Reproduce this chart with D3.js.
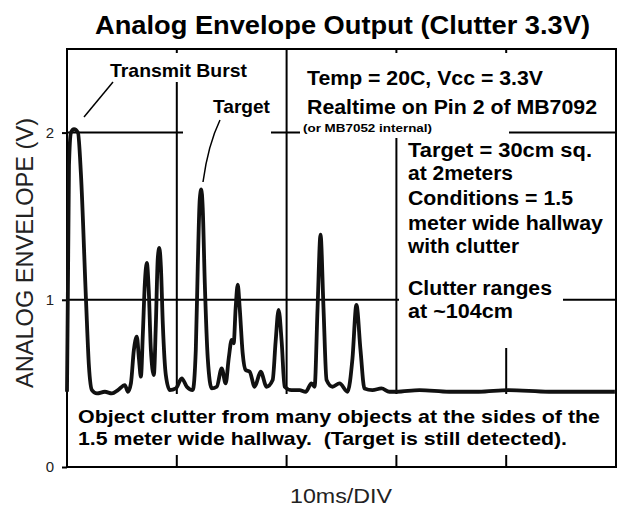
<!DOCTYPE html>
<html>
<head>
<meta charset="utf-8">
<script src="https://cdnjs.cloudflare.com/ajax/libs/d3/7.8.5/d3.min.js"></script>
<style>
  body { margin: 0; background: #fff; }
  svg { display: block; font-family: Arial, "Liberation Sans", sans-serif; }
  text { white-space: pre; }
</style>
</head>
<body>
<div id="chart"></div>
<script>
// scope trace (time in ms, envelope in volts)
var timeMs = [0, 0.18, 0.36, 0.64, 1.0, 1.27, 1.73, 2.0, 2.27, 2.73, 3.45, 4.09, 4.64, 5.27, 5.55,
  5.82, 6.09, 6.36, 6.55, 6.73, 6.91, 7.09, 7.27, 7.45, 7.64, 7.91, 8.09, 8.27, 8.41, 8.55, 8.73,
  9.0, 9.36, 9.91, 10.45, 10.91, 11.45, 11.73, 11.91, 12.09, 12.23, 12.36, 12.55, 12.82, 13.18,
  13.64, 14.09, 14.45, 14.73, 15.0, 15.18, 15.36, 15.55, 15.73, 16.0, 16.27, 16.64, 17.09, 17.64,
  18.18, 18.73, 19.0, 19.27, 19.55, 19.82, 20.45, 21.18, 21.73, 22.27, 22.55, 22.82, 23.09, 23.36,
  23.64, 24.18, 24.82, 25.55, 26.0, 26.36, 26.73, 27.09, 27.82, 28.64, 29.36, 30.0, 32.1, 34.8,
  37.5, 40.2, 43.9, 47.0, 49.9];
var envelopeV = [0.45, 1.8, 2.0, 2.02, 2.0, 1.75, 1.0, 0.6, 0.46, 0.44, 0.45, 0.44, 0.46, 0.49, 0.45,
  0.5, 0.7, 0.78, 0.65, 0.54, 0.8, 1.1, 1.22, 1.05, 0.7, 0.55, 0.85, 1.25, 1.31, 1.2, 0.85,
  0.55, 0.46, 0.47, 0.53, 0.48, 0.46, 0.7, 1.2, 1.6, 1.66, 1.55, 1.1, 0.65, 0.47,
  0.48, 0.59, 0.5, 0.65, 0.76, 0.74, 0.95, 1.09, 0.95, 0.68, 0.58, 0.57, 0.48, 0.57,
  0.48, 0.52, 0.75, 0.94, 0.75, 0.48, 0.46, 0.46, 0.45, 0.5, 0.48, 0.95, 1.39, 0.95,
  0.52, 0.48, 0.5, 0.45, 0.65, 0.97, 0.7, 0.47, 0.46, 0.47, 0.45, 0.45, 0.46, 0.45,
  0.45, 0.46, 0.45, 0.45, 0.45];

var yTicks = [0, 1, 2];
var xDivs = [10, 20, 30, 40];

var title = "Analog Envelope Output (Clutter 3.3V)";
var yTitle = "ANALOG ENVELOPE (V)";
var xTitle = "10ms/DIV";

// annotation lines: text, x, baseline, width, size
var notes = [
  ["Transmit Burst", 110, 77, 137, 19],
  ["Target", 213, 113, 57, 19],
  ["Temp = 20C, Vcc = 3.3V", 307, 85, 236, 20],
  ["Realtime on Pin 2 of MB7092", 307, 114, 290, 20],
  ["(or MB7052 internal)", 303, 132, 129, 11],
  ["Target = 30cm sq.", 408, 157, 184, 20],
  ["at 2meters", 408, 180, 105, 20],
  ["Conditions = 1.5", 408, 205, 165, 20],
  ["meter wide hallway", 408, 230, 195, 20],
  ["with clutter", 408, 253, 111, 20],
  ["Clutter ranges", 408, 295, 144, 20],
  ["at ~104cm", 408, 318, 105, 20],
  ["Object clutter from many objects at the sides of the", 78, 423, 522, 19],
  ["1.5 meter wide hallway.  (Target is still detected).", 78, 445, 489, 19]
];

var width = 618, height = 508;

var svg = d3.select("#chart")
  .append("svg")
  .attr("width", width)
  .attr("height", height);

var x = d3.scaleLinear().domain([0, 50]).range([67, 616]);
var y = d3.scaleLinear().domain([0, 2.5]).range([467, 49]);

// grid lines
svg.selectAll("line.hgrid")
  .data(yTicks.filter(function(d) { return d > 0; }))
  .enter()
  .append("line")
  .attr("x1", x(0)).attr("x2", x(50))
  .attr("y1", function(d) { return y(d); })
  .attr("y2", function(d) { return y(d); })
  .style("stroke", "#000").style("stroke-width", 2);

svg.selectAll("line.vgrid")
  .data(xDivs)
  .enter()
  .append("line")
  .attr("x1", function(d) { return x(d); })
  .attr("x2", function(d) { return x(d); })
  .attr("y1", y(2.5)).attr("y2", y(0))
  .style("stroke", "#000").style("stroke-width", 2);

// white boxes where the text sits over the grid
var masks = [
  [105, 53, 147, 29],
  [183, 98, 88, 38],
  [300, 53, 300, 67],
  [300, 120, 209, 18],
  [399, 138, 206, 152],
  [399, 290, 164, 58],
  [69, 394, 545, 61]
];
svg.selectAll("rect.mask")
  .data(masks)
  .enter()
  .append("rect")
  .attr("x", function(d) { return d[0]; })
  .attr("y", function(d) { return d[1]; })
  .attr("width", function(d) { return d[2]; })
  .attr("height", function(d) { return d[3]; })
  .style("fill", "#fff");

// frame
svg.append("rect")
  .attr("x", x(0)).attr("y", y(2.5))
  .attr("width", x(50) - x(0)).attr("height", y(0) - y(2.5))
  .style("fill", "none").style("stroke", "#000").style("stroke-width", 2);

// y axis ticks + labels
var yAxis = d3.axisLeft(y).tickValues(yTicks).tickSize(5).tickPadding(8).tickFormat(d3.format("d"));
var ga = svg.append("g").attr("transform", "translate(" + x(0) + ",0)").call(yAxis);
ga.select(".domain").remove();
ga.selectAll("line").style("stroke", "#000").style("stroke-width", 2);
ga.selectAll("text").style("font-size", "15px").style("fill", "#222")
  .style("font-family", "Arial, 'Liberation Sans', sans-serif");

// trace
var pts = timeMs.map(function(t, i) { return [t, envelopeV[i]]; });
var line = d3.line()
  .x(function(d) { return x(d[0]); })
  .y(function(d) { return y(d[1]); })
  .curve(d3.curveMonotoneX);

svg.append("path")
  .datum(pts)
  .attr("d", line)
  .style("fill", "none")
  .style("stroke", "#111")
  .style("stroke-width", 3.8)
  .style("stroke-linejoin", "round");

// leader lines
svg.append("line")
  .attr("x1", 113).attr("y1", 82).attr("x2", 84).attr("y2", 117)
  .style("stroke", "#000").style("stroke-width", 1.5);
svg.append("path")
  .attr("d", "M220,120 Q208,145 203,182")
  .style("fill", "none").style("stroke", "#000").style("stroke-width", 1.5);

// annotations
svg.selectAll("text.note")
  .data(notes)
  .enter()
  .append("text")
  .attr("class", "note")
  .attr("x", function(d) { return d[1]; })
  .attr("y", function(d) { return d[2]; })
  .attr("textLength", function(d) { return d[3]; })
  .attr("lengthAdjust", "spacingAndGlyphs")
  .style("font-size", function(d) { return d[4] + "px"; })
  .style("font-weight", "bold")
  .style("fill", "#000")
  .text(function(d) { return d[0]; });

// titles
svg.append("text")
  .attr("x", 95).attr("y", 34)
  .attr("textLength", 495).attr("lengthAdjust", "spacingAndGlyphs")
  .style("font-size", "26px").style("font-weight", "bold")
  .text(title);

svg.append("text")
  .attr("transform", "translate(33,253) rotate(-90)")
  .attr("text-anchor", "middle")
  .attr("textLength", 270).attr("lengthAdjust", "spacingAndGlyphs")
  .style("font-size", "24px").style("fill", "#222")
  .text(yTitle);

svg.append("text")
  .attr("x", 290).attr("y", 503)
  .attr("textLength", 102).attr("lengthAdjust", "spacingAndGlyphs")
  .style("font-size", "20px").style("fill", "#222")
  .text(xTitle);
</script>
</body>
</html>
